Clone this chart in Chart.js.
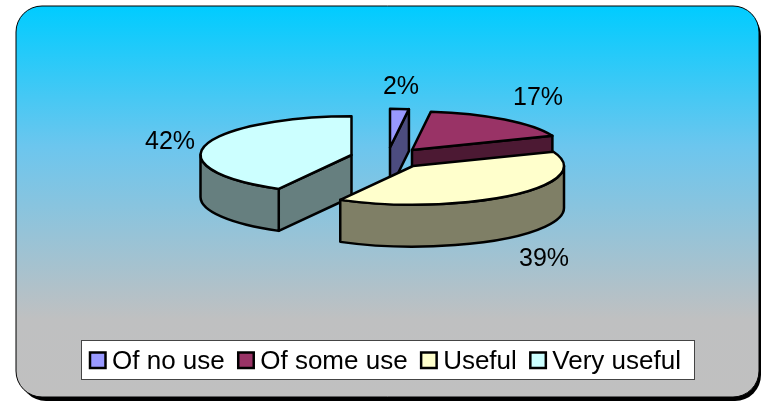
<!DOCTYPE html>
<html>
<head>
<meta charset="utf-8">
<style>
html, body { margin: 0; padding: 0; background: #fff; }
canvas { display: block; }
</style>
<script src="https://cdn.jsdelivr.net/npm/chart.js@4/dist/chart.umd.min.js"></script>
</head>
<body>
<canvas id="pie" width="761" height="401"></canvas>
<script>
const categories = ['Of no use', 'Of some use', 'Useful', 'Very useful'];
const percents = [2, 17, 39, 42];
const topColors = ['#9999ff', '#993366', '#ffffcc', '#ccffff'];
const sideColors = ['#4c4c7f', '#4c1933', '#7f7f66', '#667f7f'];

const FONT = '25px "Liberation Sans", Arial, sans-serif';
const LEGEND_FONT = '26px "Liberation Sans", Arial, sans-serif';
const squash = 0.256;
const depth = 42;
// pixel shift of every exploded slice, back to front order below
const shifts = [[0.5, -10.5], [22.5, -8], [23.5, 8], [-38, -3]];
const drawOrder = [0, 1, 3, 2];
const labelSpots = [[401, 87], [538, 98], [544, 259], [170, 142]];

function roundedRect(ctx, x, y, w, h, r) {
    ctx.beginPath();
    ctx.roundRect(x, y, w, h, r);
}

const panel = {
    id: 'panel',
    beforeDraw(chart) {
        const ctx = chart.ctx;
        ctx.save();
        ctx.fillStyle = '#000';
        roundedRect(ctx, 20, 10, 741, 391, 26);
        ctx.fill();
        const grad = ctx.createLinearGradient(0, 6, 0, 397);
        grad.addColorStop(0, '#00ccff');
        grad.addColorStop(0.36, '#6cc6ee');
        grad.addColorStop(0.8, '#bfc0c1');
        grad.addColorStop(1, '#c0c0c0');
        ctx.fillStyle = grad;
        roundedRect(ctx, 16, 6, 743, 391, 26);
        ctx.fill();
        ctx.strokeStyle = '#000';
        ctx.lineWidth = 1;
        ctx.stroke();
        ctx.restore();
    }
};

const pie3d = {
    id: 'pie3d',
    beforeDatasetDraw(chart, args) {
        const ctx = chart.ctx;
        const arcs = args.meta.data;
        ctx.save();
        ctx.lineWidth = 2.5;
        ctx.strokeStyle = '#000';
        ctx.lineJoin = 'round';
        drawOrder.forEach(i => {
            const { x, y, startAngle: a0, endAngle: a1, outerRadius: r } = arcs[i].getProps(['x', 'y', 'startAngle', 'endAngle', 'outerRadius'], true);
            const cx = x + shifts[i][0];
            const cy = y + shifts[i][1];
            const ry = r * squash;
            const edge = a => [cx + r * Math.cos(a), cy + ry * Math.sin(a)];

            ctx.fillStyle = sideColors[i];
            // flat cut faces that look towards the viewer
            [a0, a1].forEach((a, n) => {
                const seen = n === 0 ? Math.cos(a) < 0 : Math.cos(a) > 0;
                if (!seen) return;
                const p = edge(a);
                ctx.beginPath();
                ctx.moveTo(cx, cy);
                ctx.lineTo(p[0], p[1]);
                ctx.lineTo(p[0], p[1] + depth);
                ctx.lineTo(cx, cy + depth);
                ctx.closePath();
                ctx.fill();
                ctx.stroke();
            });
            // curved rim, front half only
            const from = Math.max(a0, 0);
            const to = Math.min(a1, Math.PI);
            if (to > from) {
                ctx.beginPath();
                ctx.ellipse(cx, cy, r, ry, 0, from, to);
                ctx.ellipse(cx, cy + depth, r, ry, 0, to, from, true);
                ctx.closePath();
                ctx.fill();
                ctx.stroke();
            }
            // top face
            ctx.fillStyle = topColors[i];
            ctx.beginPath();
            ctx.moveTo(cx, cy);
            ctx.ellipse(cx, cy, r, ry, 0, a0, a1);
            ctx.closePath();
            ctx.fill();
            ctx.stroke();
        });
        ctx.restore();
        return false;
    },
    afterDraw(chart) {
        const ctx = chart.ctx;
        ctx.save();
        ctx.font = FONT;
        ctx.fillStyle = '#000';
        ctx.textAlign = 'center';
        ctx.textBaseline = 'middle';
        percents.forEach((v, i) => ctx.fillText(v + '%', labelSpots[i][0], labelSpots[i][1]));

        // legend
        ctx.font = LEGEND_FONT;
        ctx.fillStyle = '#fff';
        ctx.strokeStyle = '#444';
        ctx.lineWidth = 1;
        ctx.fillRect(81.5, 340.5, 613, 39);
        ctx.strokeRect(81.5, 340.5, 613, 39);
        ctx.textAlign = 'left';
        let lx = 90;
        categories.forEach((name, i) => {
            ctx.fillStyle = topColors[i];
            ctx.strokeStyle = '#000';
            ctx.lineWidth = 2.5;
            ctx.fillRect(lx, 352.5, 15.5, 15.5);
            ctx.strokeRect(lx, 352.5, 15.5, 15.5);
            ctx.fillStyle = '#000';
            ctx.fillText(name, lx + 22, 362);
            lx += 22 + ctx.measureText(name).width + 13.5;
        });
        ctx.restore();
    }
};

new Chart(document.getElementById('pie'), {
    type: 'pie',
    data: {
        labels: categories,
        datasets: [{
            data: percents,
            backgroundColor: topColors,
            borderColor: '#000',
            borderWidth: 2
        }]
    },
    options: {
        responsive: false,
        animation: false,
        radius: 151,
        layout: { padding: { left: 238, right: 220, top: 7, bottom: 92 } },
        plugins: {
            legend: { display: false },
            tooltip: { enabled: false }
        }
    },
    plugins: [panel, pie3d]
});
</script>
</body>
</html>
